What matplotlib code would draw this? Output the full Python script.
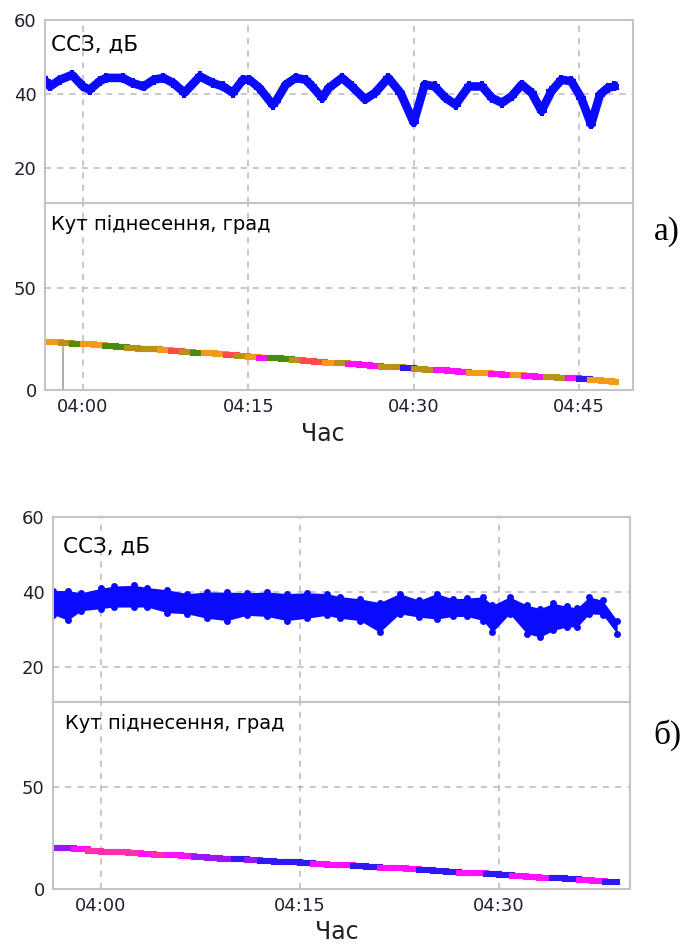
import matplotlib
matplotlib.use("Agg")
import matplotlib.pyplot as plt

# time axis: minutes after 04:00
tick_pos_a = [0, 15, 30, 45]
tick_lab_a = ["04:00", "04:15", "04:30", "04:45"]
tick_pos_b = [0, 15, 30]
tick_lab_b = ["04:00", "04:15", "04:30"]

# ---- panel a) ----
snr_a_t = [-3.4, -3.0, -2.1, -1.0, 0.0, 0.6, 1.5, 2.1, 3.6, 4.5, 5.5, 6.4, 7.3, 8.2, 9.2,
           10.6, 11.8, 12.7, 13.6, 14.5, 15.1, 16.0, 17.2, 17.5, 18.4, 19.3, 20.2, 20.8,
           21.7, 22.3, 23.5, 24.4, 25.6, 26.5, 27.7, 28.8, 30.0, 31.0, 31.9, 32.9, 33.8,
           35.0, 36.2, 37.1, 38.0, 38.9, 39.8, 40.7, 41.6, 42.5, 43.4, 44.3, 45.2, 46.1,
           46.9, 47.6, 48.2]
snr_a = [43.5, 42.1, 43.9, 45.2, 42.1, 41.2, 43.5, 44.4, 44.4, 43.0, 42.1, 43.9, 44.4, 43.0,
         40.4, 44.8, 43.0, 42.1, 40.4, 43.9, 43.9, 41.7, 37.2, 38.1, 42.6, 44.4, 43.9, 42.1,
         39.0, 41.7, 44.4, 42.1, 38.6, 40.4, 44.4, 40.4, 32.4, 42.6, 42.1, 39.0, 37.2,
         42.1, 42.1, 39.0, 37.7, 39.5, 42.6, 40.4, 35.5, 40.8, 43.9, 43.5, 39.0, 31.9,
         39.9, 41.7, 42.1]

elev_a_t = [-3.4, -3, -2, -1, 0, 1, 2, 3, 4, 5, 6, 7, 8, 9, 10, 11, 12, 13, 14, 15, 16, 17,
            18, 19, 20, 21, 22, 23, 24, 25, 26, 27, 28, 29, 30, 31, 32, 33, 34, 35, 36, 37,
            38, 39, 40, 41, 42, 43, 44, 45, 46, 47, 48, 48.4]
elev_a = [23.7, 23.5, 23.1, 22.8, 22.5, 22.1, 21.7, 21.3, 20.8, 20.4, 20.0, 19.6, 19.2,
          18.8, 18.4, 18.0, 17.5, 17.1, 16.7, 16.3, 15.9, 15.5, 15.1, 14.7, 14.3, 13.9,
          13.5, 13.1, 12.7, 12.3, 11.9, 11.5, 11.1, 10.7, 10.3, 9.9, 9.6, 9.2, 8.9, 8.5,
          8.2, 7.9, 7.5, 7.2, 6.9, 6.6, 6.3, 6.0, 5.7, 5.4, 5.0, 4.5, 3.8, 3.5]
# colour code of each step (one per segment)
elev_a_col = "OOLGOOGGLLLORLGOORLOMGGLRROLMMMLLBLLMMMOOMMOMMLLMBOOO"
glitch_a_t = -1.8
glitch_a_v = 21.0

# ---- panel б) ----
snr_b_t = [-3.6, -2.5, -1.5, 0, 1, 2.5, 3.5, 5, 6.5, 8, 9.5, 11, 12.5, 14, 15.5, 17, 18,
           19.5, 21, 22.5, 24, 25.3, 26.5, 27.6, 28.8, 29.5, 30.8, 32.1, 33.1, 34.1, 35.1,
           35.9, 36.8, 37.8, 38.9]
snr_b_hi = [40.4, 40.4, 39.8, 41.0, 41.6, 41.8, 41.2, 40.6, 39.6, 40.0, 40.0, 39.8, 40.0,
            39.6, 39.8, 39.6, 38.8, 38.2, 37.2, 39.6, 37.8, 39.6, 38.2, 38.4, 38.7, 36.5,
            38.7, 36.5, 35.6, 37.0, 36.2, 35.8, 38.7, 37.8, 32.4]
snr_b_lo = [34.0, 32.5, 35.0, 35.6, 36.0, 36.0, 36.0, 34.5, 34.2, 33.0, 32.4, 33.8, 33.5,
            32.4, 33.0, 33.8, 33.0, 32.4, 29.3, 34.2, 33.3, 32.8, 33.5, 33.5, 32.4, 29.3,
            34.2, 28.9, 28.0, 29.8, 30.7, 30.7, 34.2, 34.0, 28.9]

elev_b_t = [-3.6, -3, -2, -1, 0, 1, 2, 3, 4, 5, 6, 7, 8, 9, 10, 11, 12, 13, 14, 15, 16, 17,
            18, 19, 20, 21, 22, 23, 24, 25, 26, 27, 28, 29, 30, 31, 32, 33, 34, 35, 36, 37,
            38, 38.9]
elev_b = [20.3, 20.0, 19.5, 18.9, 18.4, 18.0, 17.7, 17.3, 16.9, 16.5, 16.2, 15.8, 15.4,
          15.0, 14.7, 14.3, 13.9, 13.5, 13.2, 12.8, 12.4, 12.0, 11.6, 11.2, 10.8, 10.4,
          10.1, 9.7, 9.3, 8.9, 8.5, 8.1, 7.7, 7.3, 6.9, 6.5, 6.0, 5.6, 5.2, 4.8, 4.4, 4.0,
          3.5, 3.1]
elev_b_col = "PPMKKKKMKMMPPPBPBBBBMMMBBMMMBBBMMBBMMMBBMMB"

palette = {"O": "#f39a1c", "L": "#b8901a", "G": "#4f8a10", "R": "#ff4a4a",
           "M": "#ff10ff", "B": "#3018f0", "P": "#9a18f0", "K": "#ff30b0"}

BLUE = "#0a0aff"
GRID = dict(color="#b8b8b8", linestyle=(0, (4, 4)), linewidth=1.1)


def style(ax, xlim, ylim, xticks, xlabels, yticks, show):
    ax.set_xticks(xticks)
    ax.set_yticks(yticks)
    ax.set_xticklabels(xlabels if show else [])
    ax.set_xlim(*xlim)
    ax.set_ylim(*ylim)
    ax.grid(True, **GRID)
    ax.set_axisbelow(True)
    for s in ax.spines.values():
        s.set_color("#c4c4c4")
        s.set_linewidth(1.5)
    ax.tick_params(length=0, labelsize=13, colors="#202030", pad=6)


def draw_elev(ax, t, v, cols):
    for i in range(len(t) - 1):
        ax.plot([t[i], t[i + 1]], [v[i], v[i]],
                color=palette[cols[i]], lw=4.4, solid_capstyle="projecting")


fig = plt.figure(figsize=(6.99, 9.44), dpi=100)
W, H = 699, 944


def rect(l, r, top, bot):
    return [l / W, 1 - bot / H, (r - l) / W, (bot - top) / H]


xa = (-3.45, 49.9)
xb = (-3.62, 39.87)

# a) signal-to-noise
ax1 = fig.add_axes(rect(45, 633, 20, 203))
ax1.plot(snr_a_t, snr_a, color=BLUE, lw=6.2, marker="P", ms=7, mew=0)
style(ax1, xa, (10.7, 60), tick_pos_a, tick_lab_a, [20, 40, 60], False)
ax1.text(0.01, 0.92, "ССЗ, дБ", transform=ax1.transAxes, fontsize=15.5, va="top")

# a) elevation
ax2 = fig.add_axes(rect(45, 633, 203, 390))
ax2.plot([glitch_a_t, glitch_a_t], [0, glitch_a_v], color="#a0a0a0", lw=1.2)
draw_elev(ax2, elev_a_t, elev_a, elev_a_col)
style(ax2, xa, (0, 92), tick_pos_a, tick_lab_a, [0, 50], True)
ax2.text(0.01, 0.935, "Кут піднесення, град", transform=ax2.transAxes, fontsize=14, va="top")

# б) signal-to-noise
ax3 = fig.add_axes(rect(53, 630, 517, 702))
ax3.fill_between(snr_b_t, snr_b_lo, snr_b_hi, color=BLUE, lw=0)
ax3.plot(snr_b_t, snr_b_hi, color=BLUE, marker="o", ms=5, mew=0, ls="none")
ax3.plot(snr_b_t, snr_b_lo, color=BLUE, marker="o", ms=5, mew=0, ls="none")
style(ax3, xb, (10.7, 60), tick_pos_b, tick_lab_b, [20, 40, 60], False)
ax3.text(0.018, 0.895, "ССЗ, дБ", transform=ax3.transAxes, fontsize=15.5, va="top")

# б) elevation
ax4 = fig.add_axes(rect(53, 630, 702, 889))
draw_elev(ax4, elev_b_t, elev_b, elev_b_col)
style(ax4, xb, (0, 92), tick_pos_b, tick_lab_b, [0, 50], True)
ax4.text(0.02, 0.935, "Кут піднесення, град", transform=ax4.transAxes, fontsize=14, va="top")

fig.text(323 / W, 1 - 434 / H, "Час", ha="center", va="center", fontsize=17, color="#202020")
fig.text(337 / W, 1 - 932 / H, "Час", ha="center", va="center", fontsize=17, color="#202020")
fig.text(667 / W, 1 - 232 / H, "а)", ha="center", va="center", fontsize=24,
         family="Liberation Serif")
fig.text(667 / W, 1 - 735 / H, "б)", ha="center", va="center", fontsize=24,
         family="Liberation Serif")

fig.savefig("out.png", dpi=100)
